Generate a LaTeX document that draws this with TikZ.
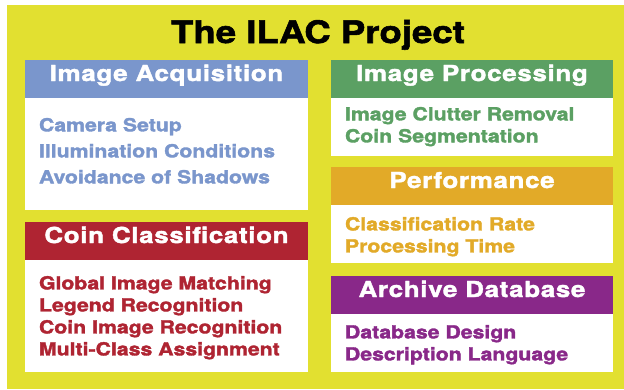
\documentclass[tikz,border=0pt]{standalone}
\usepackage{fontspec}
\setmainfont{TeX Gyre Heros}[BoldFeatures={FakeStretch=1.18,FakeBold=1.8}]
\newfontfamily\headfont{TeX Gyre Heros}[BoldFeatures={FakeStretch=1.18,FakeBold=1.8,LetterSpace=3}]
\usetikzlibrary{positioning}

\definecolor{bgyellow}{RGB}{226,224,48}
\definecolor{acqblue}{RGB}{122,150,204}
\definecolor{procgreen}{RGB}{91,160,99}
\definecolor{perfgold}{RGB}{226,170,40}
\definecolor{coinred}{RGB}{175,36,50}
\definecolor{archpurple}{RGB}{137,40,137}

\begin{document}
\begin{tikzpicture}[x=1pt,y=-1pt]
	\tikzstyle{Head} = [rectangle, anchor=north west, inner sep=0pt, outer sep=0pt, minimum height=38pt, text=white, text height=0.8em, text depth=0.4em, font=\headfont\fontsize{22}{22}\selectfont\bfseries]
	\tikzstyle{Body} = [rectangle, fill=white, inner sep=0pt, outer sep=0pt]
	\tikzstyle{Item} = [align=left, inner sep=0pt, outer sep=0pt, font=\fontsize{18}{22}\selectfont\bfseries]
	
	\useasboundingbox (0,0) rectangle (624,389);
	\fill [bgyellow] (7,5) rectangle (624,389);
	\node (title) [anchor=base, inner sep=0pt, font=\fontsize{31}{31}\selectfont\bfseries] at (318,43) {The ILAC Project};
	
	% left column
	\node (acqhead) [Head, fill=acqblue, minimum width=283pt] at (25,60) {Image Acquisition};
	\node (acqbody) [Body, minimum width=283pt, minimum height=112pt, below=0pt of acqhead] {};
	\node (acqtext) [Item, text=acqblue, font=\fontsize{18}{26}\selectfont\bfseries, below right=20pt and 14pt of acqbody.north west] {Camera Setup\\Illumination Conditions\\Avoidance of Shadows};
	
	\node (coinhead) [Head, fill=coinred, minimum width=283pt] at (25,222) {Coin Classification};
	\node (coinbody) [Body, minimum width=283pt, minimum height=112pt, below=0pt of coinhead] {};
	\node (cointext) [Item, text=coinred, below right=16pt and 14pt of coinbody.north west] {Global Image Matching\\Legend Recognition\\Coin Image Recognition\\Multi-Class Assignment};
	
	% right column
	\node (prochead) [Head, fill=procgreen, minimum width=282pt] at (331,60) {Image Processing};
	\node (procbody) [Body, minimum width=282pt, minimum height=58pt, below=0pt of prochead] {};
	\node (proctext) [Item, text=procgreen, below right=9pt and 14pt of procbody.north west] {Image Clutter Removal\\Coin Segmentation};
	
	\node (perfhead) [Head, fill=perfgold, minimum width=282pt] at (331,167) {Performance};
	\node (perfbody) [Body, minimum width=282pt, minimum height=58pt, below=0pt of perfhead] {};
	\node (perftext) [Item, text=perfgold, below right=12pt and 14pt of perfbody.north west] {Classification Rate\\Processing Time};
	
	\node (archhead) [Head, fill=archpurple, minimum width=282pt] at (331,276) {Archive Database};
	\node (archbody) [Body, minimum width=282pt, minimum height=58pt, below=0pt of archhead] {};
	\node (archtext) [Item, text=archpurple, below right=11pt and 14pt of archbody.north west] {Database Design\\Description Language};
\end{tikzpicture}
\end{document}
